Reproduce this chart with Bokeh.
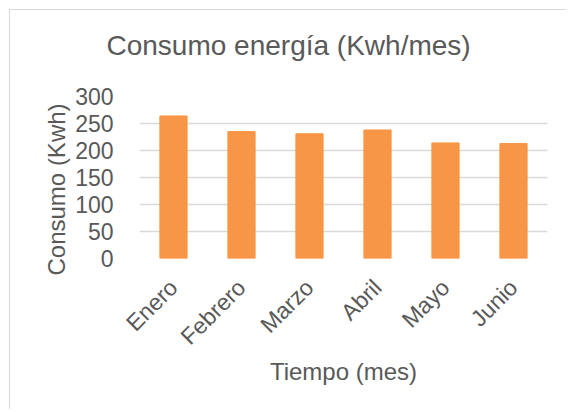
from bokeh.plotting import figure
from bokeh.models import Range1d, FixedTicker, ColumnDataSource, Title
from bokeh.embed import file_html
from bokeh.resources import INLINE
import math

months = ["Enero", "Febrero", "Marzo", "Abril", "Mayo", "Junio"]
consumo = [264, 235, 231, 238, 214, 213]
y_ticks = [0, 50, 100, 150, 200, 250, 300]
chart_title = "Consumo energía (Kwh/mes)"

FONT = "Liberation Sans"
TXT = "#595959"
GRID = "#d9d9d9"

src = ColumnDataSource(data=dict(mes=months, valor=consumo))

p = figure(x_range=months, y_range=Range1d(0, 300), width=557, height=400,
           title=None, output_backend="svg", toolbar_location=None,
           min_border_left=129, min_border_right=20,
           min_border_top=86, min_border_bottom=152)
p.margin = (9, 0, 0, 9)
p.styles = {"border-left": f"1px solid {GRID}", "border-top": f"1px solid {GRID}"}

p.vbar(x="mes", top="valor", width=0.4, source=src,
       fill_color="#f79646", line_color="#f79646")

# spacer between plot frame and chart title, then the chart title itself
p.add_layout(Title(text=" ", text_font_size="1px", standoff=33), "above")
p.add_layout(Title(text=chart_title, align="left", offset=-33, standoff=0,
                   text_font=FONT, text_font_size="28px",
                   text_font_style="normal", text_color=TXT), "above")

p.outline_line_color = None
p.background_fill_color = "white"
p.border_fill_color = "white"

p.xgrid.grid_line_color = None
p.ygrid.grid_line_color = GRID
p.ygrid.grid_line_width = 1.5

p.yaxis.ticker = FixedTicker(ticks=y_ticks)
for ax in (p.xaxis[0], p.yaxis[0]):
    ax.axis_line_color = None
    ax.major_tick_line_color = None
    ax.minor_tick_line_color = None
    ax.major_label_text_font = FONT
    ax.major_label_text_color = TXT
    ax.major_label_text_font_size = "23px"
    ax.axis_label_text_font = FONT
    ax.axis_label_text_color = TXT
    ax.axis_label_text_font_size = "24px"
    ax.axis_label_text_font_style = "normal"

p.yaxis.major_label_standoff = 20

ytitle = Title(text="Consumo (Kwh)", align="left", offset=-17, standoff=6,
               text_font=FONT, text_font_size="24px", text_font_style="normal",
               text_color=TXT)
p.add_layout(ytitle, "left")

p.xaxis.major_label_orientation = math.pi / 4
p.xaxis.major_label_standoff = 19
p.xaxis.axis_label = "Tiempo (mes)"
p.xaxis.axis_label_standoff = -4

open("out.html", "w").write(file_html(p, INLINE))
